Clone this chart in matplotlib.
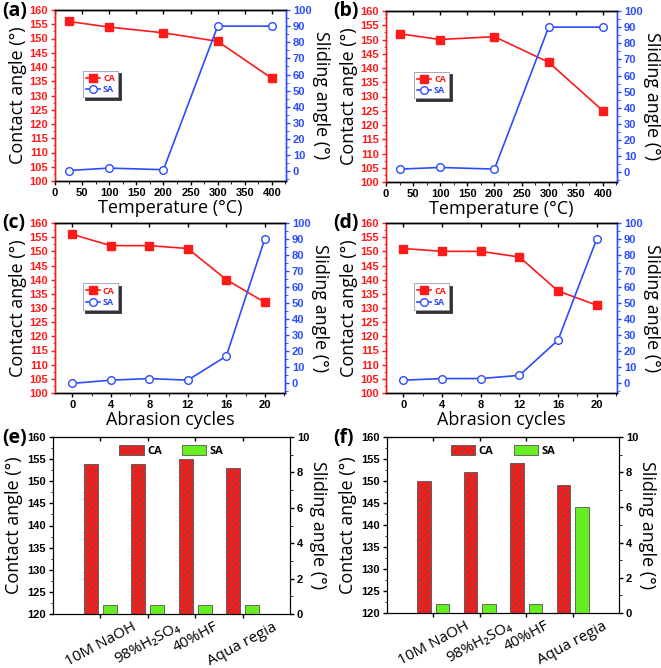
import matplotlib
matplotlib.use("Agg")
import matplotlib.pyplot as plt
from matplotlib import font_manager
from matplotlib.ticker import MultipleLocator, AutoMinorLocator
import numpy as np

plt.rcParams['font.family'] = ['Open Sans', 'DejaVu Sans']
plt.rcParams['hatch.color'] = '#8b0000'
plt.rcParams['hatch.linewidth'] = 0.6

names = {f.name for f in font_manager.fontManager.ttflist}
NARROW = 'Liberation Sans Narrow' if 'Liberation Sans Narrow' in names else 'Liberation Sans'

# ---------------- data ----------------
temperature = [25, 100, 200, 300, 400]
ca_a = [156, 154, 152, 149, 136]
sa_a = [0.5, 2, 1, 90, 90]
ca_b = [152, 150, 151, 142, 125]
sa_b = [2, 3, 2, 90, 90]

cycles = [0, 4, 8, 12, 16, 20]
ca_c = [156, 152, 152, 151, 140, 132]
sa_c = [0, 2, 3, 2, 17, 90]
ca_d = [151, 150, 150, 148, 136, 131]
sa_d = [2, 3, 3, 5, 27, 90]

chemicals = ['10M NaOH', '98%H₂SO₄', '40%HF', 'Aqua regia']
ca_e = [154, 154, 155, 153]
sa_e = [0.5, 0.5, 0.5, 0.5]
ca_f = [150, 152, 154, 149]
sa_f = [0.5, 0.5, 0.5, 6]

RED = '#ff1a1a'
BLUE = '#2b4cff'
GREEN = '#66ee22'

W, H = 661, 668
fig = plt.figure(figsize=(W / 100, H / 100), dpi=100)


def box(l, r, t, b):
    return [l / W, (H - b) / H, (r - l) / W, (b - t) / H]


def ticklabel_style(labels, size=7.5):
    for t in labels:
        t.set_fontweight('bold')
        t.set_fontfamily(NARROW)
        t.set_fontsize(size)


def px_text(x, y, s):
    fig.text(x / W, 1 - y / H, s, fontsize=14, fontweight='bold', va='top', ha='left')


def line_panel(rect, x, ca, sa, xlabel, xlim, xticks):
    ax = fig.add_axes(box(*rect))
    ax2 = ax.twinx()
    ax.plot(x, ca, color=RED, marker='s', ms=5.5, lw=1.2, label='CA')
    ax2.plot(x, sa, color=BLUE, marker='o', ms=5.5, mfc='white', mec=BLUE, lw=1.2, label='SA')
    ax.set_xlim(*xlim)
    ax.set_ylim(100, 160)
    ax2.set_ylim(-6, 100)
    ax.yaxis.set_major_locator(MultipleLocator(5))
    ax.yaxis.set_minor_locator(AutoMinorLocator(2))
    ax2.yaxis.set_major_locator(MultipleLocator(10))
    ax2.yaxis.set_minor_locator(AutoMinorLocator(2))
    ax.set_xticks(xticks)
    ax.xaxis.set_minor_locator(AutoMinorLocator(2))
    for a in (ax, ax2):
        for s in a.spines.values():
            s.set_linewidth(1.0)
    ax.spines['left'].set_color(RED)
    ax2.spines['left'].set_color(RED)
    ax2.spines['right'].set_color(BLUE)
    ax.spines['right'].set_color(BLUE)
    ax.tick_params(axis='y', colors=RED, length=3, width=1, pad=2)
    ax.tick_params(axis='y', which='minor', colors=RED, length=1.8)
    ax2.tick_params(axis='y', colors=BLUE, length=3, width=1, pad=2)
    ax2.tick_params(axis='y', which='minor', colors=BLUE, length=1.8)
    ax.tick_params(axis='x', length=3, width=1, pad=2)
    ax.tick_params(axis='x', which='minor', length=1.8)
    ticklabel_style(ax.get_yticklabels() + ax2.get_yticklabels() + ax.get_xticklabels(), 8)
    top = ax.secondary_xaxis('top')
    top.set_xticks(xticks)
    top.tick_params(direction='in', labeltop=False, length=3, width=1)
    ax.set_xlabel(xlabel, fontsize=13, labelpad=1)
    ax.set_ylabel('Contact angle (°)', fontsize=13, labelpad=2)
    ax2.set_ylabel('Sliding angle (°)', fontsize=13, rotation=270, labelpad=13)
    h1, l1 = ax.get_legend_handles_labels()
    h2, l2 = ax2.get_legend_handles_labels()
    leg = ax.legend(h1 + h2, l1 + l2, loc='upper left', bbox_to_anchor=(0.12, 0.645),
                    handlelength=1.6, borderpad=0.35, labelspacing=0.25, handletextpad=0.3,
                    borderaxespad=0, fancybox=False, shadow={'color': '#333333', 'alpha': 1},
                    edgecolor='#9999bb', framealpha=1,
                    prop={'weight': 'bold', 'size': 6.5})
    leg.get_frame().set_linewidth(0.6)
    for t, c in zip(leg.get_texts(), [RED, BLUE]):
        t.set_color(c)
    return ax


def bar_panel(rect, ca, sa):
    ax = fig.add_axes(box(*rect))
    ax2 = ax.twinx()
    pos = np.arange(1, len(chemicals) + 1)
    w = 0.29
    ax.bar(pos - 0.2, [v - 120 for v in ca], bottom=120, width=w, color=RED,
           edgecolor='#555555', linewidth=0.6, hatch='/////', label='CA')
    ax2.bar(pos + 0.2, sa, width=w, color=GREEN, edgecolor='#555555', linewidth=0.6,
            label='SA')
    ax.set_xlim(0, 5)
    ax.set_ylim(120, 160)
    ax2.set_ylim(0, 10)
    ax.yaxis.set_major_locator(MultipleLocator(5))
    ax.yaxis.set_minor_locator(AutoMinorLocator(2))
    ax2.yaxis.set_major_locator(MultipleLocator(2))
    ax2.yaxis.set_minor_locator(AutoMinorLocator(2))
    ax.set_xticks(pos)
    ax.set_xticklabels(chemicals, rotation=28, ha='center', fontsize=11)
    ax.tick_params(axis='y', length=3, width=1, pad=2)
    ax.tick_params(axis='y', which='minor', length=1.8)
    ax2.tick_params(axis='y', length=3, width=1, pad=2)
    ax2.tick_params(axis='y', which='minor', length=1.8)
    ax.tick_params(axis='x', length=3, width=1, pad=1)
    ticklabel_style(ax.get_yticklabels() + ax2.get_yticklabels(), 8)
    top = ax.secondary_xaxis('top')
    top.set_xticks(pos)
    top.tick_params(direction='in', labeltop=False, length=3, width=1)
    ax.set_ylabel('Contact angle (°)', fontsize=13, labelpad=3)
    ax2.set_ylabel('Sliding angle (°)', fontsize=13, rotation=270, labelpad=13)
    h1, l1 = ax.get_legend_handles_labels()
    h2, l2 = ax2.get_legend_handles_labels()
    ax.legend(h1 + h2, l1 + l2, loc='upper center', bbox_to_anchor=(0.5, 1.01), ncol=2,
              frameon=False, handlelength=2.2, handleheight=1.0, columnspacing=1.8,
              handletextpad=0.3, prop={'weight': 'bold', 'size': 8})
    return ax


line_panel((55, 286, 10, 181), temperature, ca_a, sa_a, 'Temperature (°C)', (0, 426),
           list(range(0, 401, 50)))
line_panel((386, 617, 11, 182), temperature, ca_b, sa_b, 'Temperature (°C)', (0, 426),
           list(range(0, 401, 50)))
line_panel((55, 285, 223, 393), cycles, ca_c, sa_c, 'Abrasion cycles', (-1.8, 22.1),
           cycles)
line_panel((386, 617, 223, 393), cycles, ca_d, sa_d, 'Abrasion cycles', (-1.8, 22.1),
           cycles)
bar_panel((53, 290, 437, 614), ca_e, sa_e)
bar_panel((387, 619, 437, 613), ca_f, sa_f)

px_text(2, 1, '(a)')
px_text(333, 1, '(b)')
px_text(2, 213, '(c)')
px_text(333, 213, '(d)')
px_text(2, 428, '(e)')
px_text(333, 428, '(f)')

fig.savefig('out.png', dpi=100)
